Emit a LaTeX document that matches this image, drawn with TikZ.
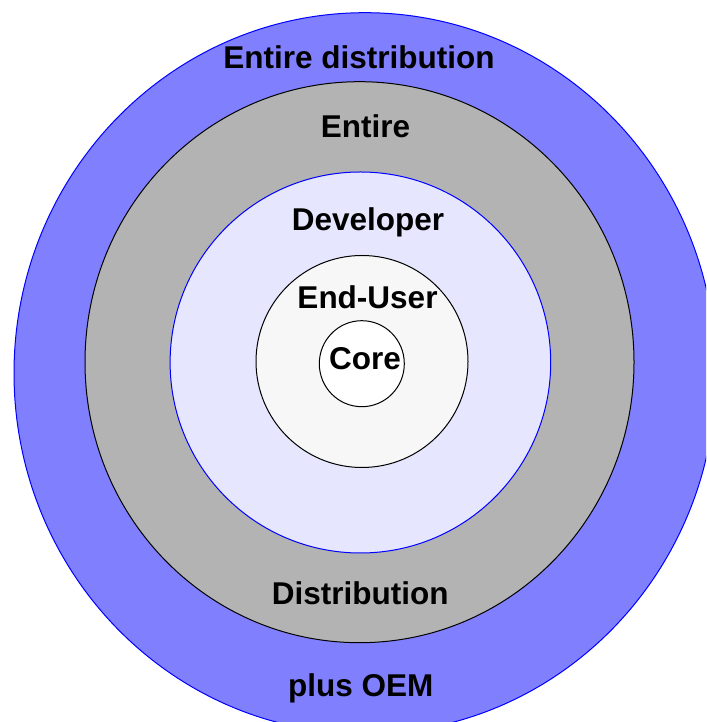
\documentclass[tikz,border=0pt]{standalone}
\usepackage{fontspec}
\usetikzlibrary{shapes.geometric}
\setmainfont{Liberation Sans}
\definecolor{ringblue}{HTML}{8080FF}
\definecolor{ringgray}{HTML}{B3B3B3}
\definecolor{ringlilac}{HTML}{E6E6FF}
\definecolor{ringwhite}{HTML}{F7F7F7}
\tikzset{
  ring/.style={ellipse, inner sep=0pt, line width=1pt},
  label text/.style={anchor=base, inner sep=0pt, font=\fontsize{31.5}{31.5}\selectfont\bfseries}
}
\begin{document}
\begin{tikzpicture}[x=1pt,y=1pt]
  \useasboundingbox (0,0) rectangle (706,722);
  \clip (0,0) rectangle (706,722);
  % nested layers, outermost first
  \node[ring, draw=blue,  fill=ringblue,  minimum width=702pt, minimum height=721pt] (oem)  at (365,348.8) {};
  \node[ring, draw=black, fill=ringgray,  minimum width=549pt, minimum height=561pt] (dist) at (359.5,359.8) {};
  \node[ring, draw=blue,  fill=ringlilac, minimum width=380.6pt, minimum height=381pt] (dev) at (360.4,359.5) {};
  \node[ring, draw=black, fill=ringwhite, minimum width=212pt, minimum height=212pt] (user) at (362,360.5) {};
  \node[ring, draw=black, fill=white,     minimum width=85pt,  minimum height=86pt]  (core) at (361.8,358.3) {};
  % layer labels
  \node[label text] (t1) at (359,653.7)   {Entire distribution};
  \node[label text] (t2) at (365.5,584.7) {Entire};
  \node[label text] (t3) at (368,491.3)   {Developer};
  \node[label text] (t4) at (367.5,413.7) {End-User};
  \node[label text] (t5) at (365,352)     {Core};
  \node[label text] (t6) at (360.2,117)   {Distribution};
  \node[label text] (t7) at (360.8,25.3)  {plus OEM};
\end{tikzpicture}
\end{document}
